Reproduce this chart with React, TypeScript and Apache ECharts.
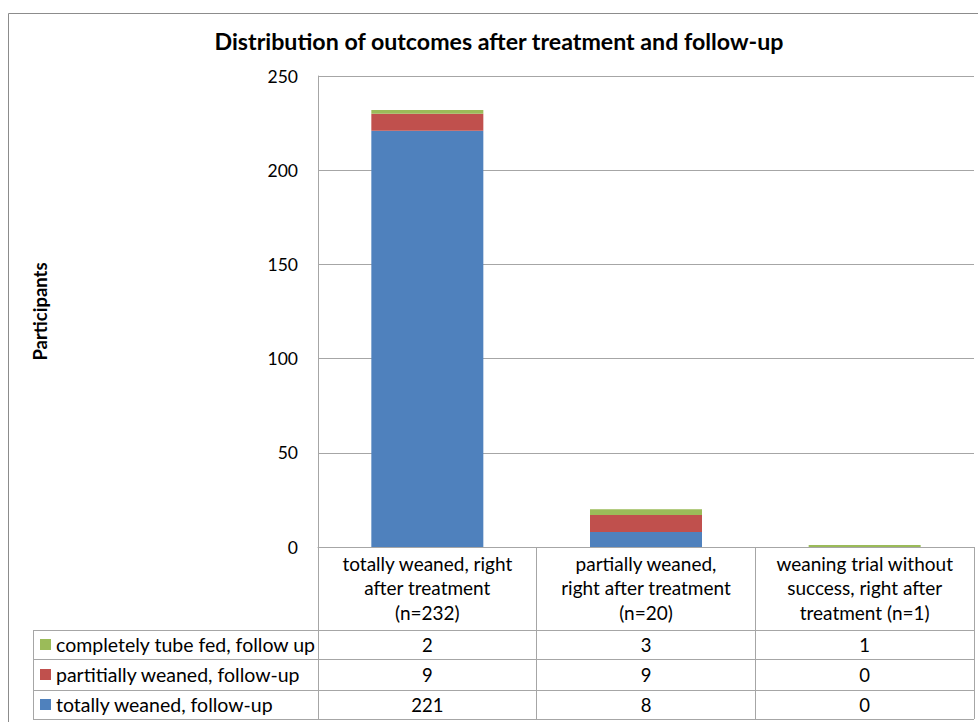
import React, { useEffect, useRef } from "react";
import * as echarts from "echarts";

const categories = [
  "totally weaned, right\nafter treatment\n(n=232)",
  "partially weaned,\nright after treatment\n(n=20)",
  "weaning trial without\nsuccess, right after\ntreatment (n=1)",
];
const seriesNames = [
  "totally weaned, follow-up",
  "partitially weaned, follow-up",
  "completely tube fed, follow up",
];
const totallyWeaned = [221, 8, 0];
const partiallyWeaned = [9, 9, 0];
const tubeFed = [2, 3, 1];
const seriesColors = ["#4F81BD", "#C0504D", "#9BBB59"];
const yMin = 0;
const yMax = 250;
const yInterval = 50;
const titleText = "Distribution of outcomes after treatment and follow-up";
const yAxisTitle = "Participants";

export default function App() {
  const ref = useRef<HTMLDivElement>(null);
  useEffect(() => {
    const chart = echarts.init(ref.current!, null, { renderer: "svg" });
    const FONT = "Lato, 'Noto Sans', sans-serif";
    const gridL = 318, gridR = 974, gridT = 76, gridB = 547;
    const lineColor = "#a6a6a6";
    const tableLines = [630, 659, 690, 719];
    const tableLeft = 33;
    const seriesData = [totallyWeaned, partiallyWeaned, tubeFed];
    // table rows top-to-bottom: tube fed, partially weaned, totally weaned
    const rowOrder = [2, 1, 0];
    const rowCenters = rowOrder.map((_, i) => (tableLines[i] + tableLines[i + 1]) / 2);

    const rowAxes = rowOrder.map((si, i) => ({
      type: "category",
      gridIndex: 0,
      position: "bottom",
      offset: rowCenters[i] - gridB,
      data: seriesData[si].map((v) => String(v)),
      axisLine: { show: false },
      axisTick: { show: false },
      axisLabel: {
        interval: 0,
        margin: 0,
        verticalAlign: "middle",
        fontFamily: FONT,
        fontSize: 18.5,
        color: "#000",
      },
    }));

    const graphics: any[] = [
      {
        type: "rect",
        shape: { x: 8.5, y: 13.5, width: 1200, height: 900 },
        style: { fill: "none", stroke: "#8c8c8c", lineWidth: 1 },
        silent: true,
      },
      {
        type: "text",
        x: 499,
        y: 41,
        style: {
          text: titleText,
          textAlign: "center",
          textVerticalAlign: "middle",
          font: `bold 23.2px ${FONT}`,
          fill: "#000",
        },
      },
    ];
    tableLines.forEach((y) => {
      graphics.push({
        type: "line",
        shape: { x1: tableLeft, y1: y + 0.5, x2: gridR, y2: y + 0.5 },
        style: { stroke: lineColor, lineWidth: 1 },
        silent: true,
      });
    });
    graphics.push({
      type: "line",
      shape: { x1: tableLeft + 0.5, y1: tableLines[0], x2: tableLeft + 0.5, y2: tableLines[3] },
      style: { stroke: lineColor, lineWidth: 1 },
      silent: true,
    });
    rowOrder.forEach((si, i) => {
      graphics.push({
        type: "rect",
        shape: { x: 40, y: rowCenters[i] - 5.5, width: 11, height: 11 },
        style: { fill: seriesColors[si] },
        silent: true,
      });
      graphics.push({
        type: "text",
        x: 56,
        y: rowCenters[i],
        style: {
          text: seriesNames[si],
          textAlign: "left",
          textVerticalAlign: "middle",
          font: `19.5px ${FONT}`,
          fill: "#000",
        },
      });
    });

    chart.setOption({
      animation: false,
      backgroundColor: "#fff",
      grid: { left: gridL, top: gridT, width: gridR - gridL, height: gridB - gridT },
      xAxis: [
        {
          type: "category",
          data: categories,
          axisLine: { show: true, lineStyle: { color: lineColor, width: 1 } },
          axisTick: {
            show: true,
            alignWithLabel: false,
            length: tableLines[3] - gridB,
            lineStyle: { color: lineColor, width: 1 },
          },
          axisLabel: {
            interval: 0,
            margin: 4,
            fontFamily: FONT,
            fontSize: 19,
            lineHeight: 24.5,
            color: "#000",
          },
        },
        ...rowAxes,
      ],
      yAxis: {
        type: "value",
        min: yMin,
        max: yMax,
        interval: yInterval,
        name: yAxisTitle,
        nameLocation: "middle",
        nameRotate: 90,
        nameGap: gridL - 49,
        nameTextStyle: { fontFamily: FONT, fontWeight: "bold", fontSize: 18.5, color: "#000" },
        axisLine: { show: true, lineStyle: { color: lineColor, width: 1 } },
        axisTick: { show: false },
        splitLine: { show: true, lineStyle: { color: lineColor, width: 1 } },
        axisLabel: { fontFamily: FONT, fontSize: 17.5, margin: 20, color: "#000" },
      },
      series: seriesData.map((d, i) => ({
        type: "bar",
        name: seriesNames[i],
        stack: "total",
        barWidth: 112,
        data: d,
        itemStyle: { color: seriesColors[i] },
      })),
      graphic: graphics,
    });
    return () => chart.dispose();
  }, []);
  return (
    <div
      ref={ref}
      style={{ position: "fixed", left: 0, top: 0, width: 978, height: 722, background: "#fff" }}
    />
  );
}
